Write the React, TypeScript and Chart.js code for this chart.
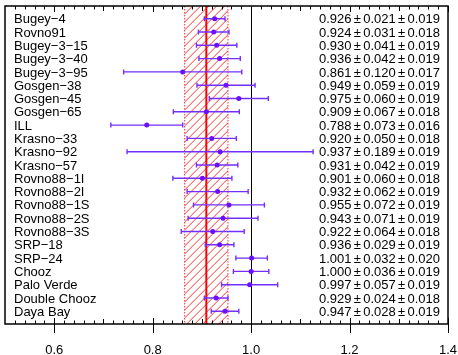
import { useEffect, useRef } from "react";
import { Chart, registerables } from "chart.js";

Chart.register(...registerables);

// Reactor experiments, measured/predicted flux ratio with stat and syst errors
const experiments = [
  "Bugey\u22124",
  "Rovno91",
  "Bugey\u22123\u221215",
  "Bugey\u22123\u221240",
  "Bugey\u22123\u221295",
  "Gosgen\u221238",
  "Gosgen\u221245",
  "Gosgen\u221265",
  "ILL",
  "Krasno\u221233",
  "Krasno\u221292",
  "Krasno\u221257",
  "Rovno88\u22121I",
  "Rovno88\u22122I",
  "Rovno88\u22121S",
  "Rovno88\u22122S",
  "Rovno88\u22123S",
  "SRP\u221218",
  "SRP\u221224",
  "Chooz",
  "Palo Verde",
  "Double Chooz",
  "Daya Bay",
];
const ratios = [
  0.926, 0.924, 0.93, 0.936, 0.861, 0.949, 0.975, 0.909, 0.788, 0.92, 0.937,
  0.931, 0.901, 0.932, 0.955, 0.943, 0.922, 0.936, 1.001, 1.0, 0.997, 0.929,
  0.947,
];
const statErr = [
  0.021, 0.031, 0.041, 0.042, 0.12, 0.059, 0.06, 0.067, 0.073, 0.05, 0.189,
  0.042, 0.06, 0.062, 0.072, 0.071, 0.064, 0.029, 0.032, 0.036, 0.057, 0.024,
  0.028,
];
const systErr = [
  0.019, 0.018, 0.019, 0.019, 0.017, 0.019, 0.019, 0.018, 0.016, 0.018, 0.019,
  0.019, 0.018, 0.019, 0.019, 0.019, 0.018, 0.019, 0.02, 0.019, 0.019, 0.018,
  0.019,
];
// Global average and its uncertainty band
const meanRatio = 0.909;
const meanErr = 0.044;
const xTicks = [0.6, 0.8, 1.0, 1.2, 1.4];

const X_MIN = 0.5;
const X_MAX = 1.4;
const FONT = '13px "Liberation Sans", Arial, sans-serif';
const POINT_COLOR = "#6a10ff";
const BAR_COLOR = "#7230ff";

const fmt = (v: number) => v.toFixed(3);

const forestPlugin = {
  id: "forest",
  beforeDatasetsDraw(chart: any) {
    const { ctx, chartArea: a, scales } = chart;
    const x = scales.x;
    const y = scales.y;
    ctx.save();
    ctx.beginPath();
    ctx.rect(a.left, a.top, a.right - a.left, a.bottom - a.top);
    ctx.clip();

    // hatched uncertainty band around the average
    const bl = x.getPixelForValue(meanRatio - meanErr);
    const br = x.getPixelForValue(meanRatio + meanErr);
    const h = a.bottom - a.top;
    ctx.save();
    ctx.beginPath();
    ctx.rect(bl, a.top, br - bl, h);
    ctx.clip();
    ctx.beginPath();
    ctx.strokeStyle = "rgba(255,0,0,0.8)";
    ctx.lineWidth = 1;
    for (let s = bl - h; s < br + 8; s += 8) {
      ctx.moveTo(s, a.bottom);
      ctx.lineTo(s + h, a.top);
    }
    ctx.stroke();
    ctx.restore();

    // dotted band edges
    ctx.beginPath();
    ctx.setLineDash([1.5, 1.5]);
    ctx.strokeStyle = "rgba(255,0,0,0.8)";
    ctx.lineWidth = 1;
    ctx.moveTo(bl, a.top);
    ctx.lineTo(bl, a.bottom);
    ctx.moveTo(br, a.top);
    ctx.lineTo(br, a.bottom);
    ctx.stroke();
    ctx.setLineDash([]);

    // average line
    const mx = x.getPixelForValue(meanRatio);
    ctx.beginPath();
    ctx.strokeStyle = "#ff0000";
    ctx.lineWidth = 2;
    ctx.moveTo(mx, a.top);
    ctx.lineTo(mx, a.bottom);
    ctx.stroke();

    // unity line
    const ux = Math.round(x.getPixelForValue(1.0)) + 0.5;
    ctx.beginPath();
    ctx.strokeStyle = "#000000";
    ctx.lineWidth = 1;
    ctx.moveTo(ux, a.top);
    ctx.lineTo(ux, a.bottom);
    ctx.stroke();

    // error bars with caps
    ctx.strokeStyle = BAR_COLOR;
    ctx.lineWidth = 1.4;
    ratios.forEach((r, i) => {
      const py = y.getPixelForValue(i);
      const x0 = x.getPixelForValue(r - statErr[i]);
      const x1 = x.getPixelForValue(r + statErr[i]);
      ctx.beginPath();
      ctx.moveTo(x0, py);
      ctx.lineTo(x1, py);
      ctx.moveTo(x0, py - 2.5);
      ctx.lineTo(x0, py + 2.5);
      ctx.moveTo(x1, py - 2.5);
      ctx.lineTo(x1, py + 2.5);
      ctx.stroke();
    });
    ctx.restore();
  },
  afterDraw(chart: any) {
    const { ctx, chartArea: a, scales } = chart;
    const x = scales.x;
    const y = scales.y;
    ctx.save();

    // frame
    ctx.strokeStyle = "#000000";
    ctx.lineWidth = 1.5;
    ctx.strokeRect(a.left, a.top, a.right - a.left, a.bottom - a.top);

    // tick marks on bottom and top axes
    ctx.lineWidth = 1;
    ctx.beginPath();
    const n = Math.round((X_MAX - X_MIN) / 0.02);
    for (let k = 1; k <= n; k++) {
      const v = X_MIN + k * 0.02;
      const px = Math.round(x.getPixelForValue(v)) + 0.5;
      const kk = Math.round(v * 100);
      const major = kk % 20 === 0 && kk >= 60;
      const medium = kk % 10 === 0;
      if (major) {
        ctx.moveTo(px, a.bottom - 6);
        ctx.lineTo(px, a.bottom + 9);
        ctx.moveTo(px, a.top);
        ctx.lineTo(px, a.top + 6);
      } else {
        const len = medium ? 5 : 3.5;
        ctx.moveTo(px, a.bottom - len);
        ctx.lineTo(px, a.bottom);
        ctx.moveTo(px, a.top);
        ctx.lineTo(px, a.top + len);
      }
    }
    ctx.stroke();

    ctx.font = FONT;
    ctx.fillStyle = "#000000";

    // x tick labels
    ctx.textAlign = "center";
    ctx.textBaseline = "alphabetic";
    xTicks.forEach((t) => {
      ctx.fillText(t.toFixed(1), x.getPixelForValue(t), 353.5);
    });

    // experiment names
    ctx.textAlign = "left";
    experiments.forEach((name, i) => {
      ctx.fillText(name, a.left + 9, y.getPixelForValue(i) + 4.6);
    });

    // values with errors, right aligned
    const gap = 2.3;
    const right = a.right - 8;
    ratios.forEach((r, i) => {
      const parts = [fmt(r), "\u00b1", fmt(statErr[i]), "\u00b1", fmt(systErr[i])];
      const widths = parts.map((p) => ctx.measureText(p).width);
      const total = widths.reduce((s, w) => s + w, 0) + gap * 4;
      let cx = right - total;
      const py = y.getPixelForValue(i) + 4.6;
      parts.forEach((p, j) => {
        ctx.fillText(p, cx, py);
        cx += widths[j] + gap;
      });
    });
    ctx.restore();
  },
};

export default function App() {
  const canvasRef = useRef<HTMLCanvasElement | null>(null);

  useEffect(() => {
    const canvas = canvasRef.current;
    if (!canvas) return;
    const chart = new Chart(canvas, {
      type: "scatter",
      data: {
        datasets: [
          {
            data: ratios.map((r, i) => ({ x: r, y: i })),
            pointRadius: 2.5,
            pointBackgroundColor: POINT_COLOR,
            pointBorderWidth: 0,
            pointHoverRadius: 2.5,
          },
        ],
      },
      options: {
        responsive: false,
        animation: false,
        devicePixelRatio: 1,
        layout: { padding: { left: 5, right: 10, top: 6, bottom: 31 } },
        plugins: {
          legend: { display: false },
          tooltip: { enabled: false },
        },
        scales: {
          x: { type: "linear", min: X_MIN, max: X_MAX, display: false },
          y: { type: "linear", min: -0.955, max: 22.955, reverse: true, display: false },
        },
      },
      plugins: [forestPlugin],
    });
    return () => chart.destroy();
  }, []);

  return (
    <div style={{ position: "fixed", left: 0, top: 0, width: 458, height: 355, background: "#fff" }}>
      <canvas ref={canvasRef} width={458} height={355} />
    </div>
  );
}
